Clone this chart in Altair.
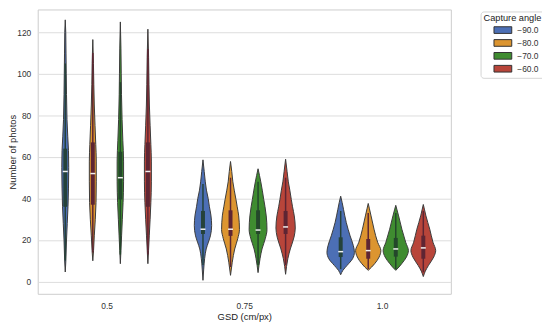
import altair as alt
import pandas as pd

# ---------------- data ----------------
gsd_labels = ["0.5", "0.75", "1.0"]
angle_labels = ["−90.0", "−80.0", "−70.0", "−60.0"]
fill_colors = ["#4c6fb5", "#dc9530", "#3f8c30", "#b8453a"]
box_colors = ["#25423a", "#5e2533", "#24472b", "#5e2533"]

# violin profiles: levels (Number of photos) and violin widths (density, px units)
# GSD 0.5
g050_a90_y = [4.6, 10, 20, 28, 36, 45, 55, 63, 70, 78, 90, 100, 110, 120, 126]
g050_a90_w = [0, 1.2, 2.5, 4, 5.5, 6.5, 7, 6.5, 5, 3.5, 2.5, 2, 1.5, 1, 0]
g050_a80_y = [10, 15, 22, 30, 38, 48, 58, 66, 75, 85, 95, 105, 116.5]
g050_a80_w = [0, 1.5, 3, 5, 6.5, 7, 7, 6, 4.5, 3, 2, 1.3, 0]
g050_a70_y = [8.6, 15, 22, 30, 38, 48, 58, 68, 78, 90, 100, 112, 125]
g050_a70_w = [0, 1.2, 2.5, 4, 5.5, 6.5, 6.5, 5, 3.5, 2.3, 1.8, 1.2, 0]
g050_a60_y = [8.6, 15, 22, 30, 38, 48, 58, 66, 75, 85, 95, 108, 121.5]
g050_a60_w = [0, 1.3, 2.8, 4.5, 6, 7, 7, 6, 4.5, 3, 2.2, 1.4, 0]
# GSD 0.75
g075_a90_y = [0.6, 6, 11, 15.7, 19, 22, 27, 32, 36, 40, 44, 48, 53, 58.6]
g075_a90_w = [0, 1.5, 3.3, 6.5, 11, 15, 17.5, 16, 13, 10.5, 7, 4.7, 2.5, 0]
g075_a80_y = [3, 9.3, 15.7, 20.6, 25, 31.6, 36, 39.5, 44, 48, 53, 57.8]
g075_a80_w = [0, 3.5, 8.5, 14.5, 18, 16.5, 13.5, 11, 7.5, 4.7, 2.5, 0]
g075_a70_y = [4.3, 11, 15.7, 20.6, 25, 31.6, 36, 39.5, 44, 48, 51, 54.3]
g075_a70_w = [0, 4, 8, 14.5, 18, 16.5, 14, 11.5, 8.5, 5.5, 3, 0]
g075_a60_y = [3.5, 11, 15.7, 21.4, 25.8, 31.6, 36, 39.5, 44, 48, 53, 58.9]
g075_a60_w = [0, 4.5, 9.5, 17, 19.5, 17.5, 14, 11.5, 8.5, 5.5, 3, 0]
# GSD 1.0
g100_a90_y = [3.3, 5.4, 7.8, 11, 14.1, 17.3, 22, 28.4, 34.8, 38, 41.1]
g100_a90_w = [0, 4.5, 13, 24, 27.7, 25.5, 19, 11.3, 5.7, 3, 0]
g100_a80_y = [5.4, 7, 8.6, 11.8, 14.9, 18.9, 25.2, 31.6, 35, 37.6]
g100_a80_w = [0, 7, 13, 22, 25.5, 19, 11.7, 5.7, 2.5, 0]
g100_a70_y = [5.4, 7, 8.6, 11.8, 14.9, 18.9, 25.2, 31.6, 34.5, 36.7]
g100_a70_w = [0, 6.5, 12, 21.5, 25.5, 20, 12.3, 5.7, 2.5, 0]
g100_a60_y = [2.4, 5, 7.8, 11.8, 14.9, 18.9, 25.2, 31.6, 34.5, 37.1]
g100_a60_w = [0, 4, 10.5, 21, 25, 19.5, 13, 5.3, 2.5, 0]

# inner box statistics per GSD group (one value per capture angle)
q1_vals = [[36, 37, 39.5, 36], [22.9, 22, 22.9, 22.9], [11.8, 11, 12, 11]]
median_vals = [[53, 52, 50, 53], [25.2, 25.2, 24.8, 26.3], [14.4, 14.9, 15.7, 16.2]]
q3_vals = [[64, 67, 62.5, 67], [34, 34.3, 34.3, 34], [21.3, 20.5, 21, 22.1]]
whisker_lo = [[10, 14, 13, 13], [8, 7, 8, 8], [6, 6, 6, 4.5]]
whisker_hi = [[105, 110, 96, 112], [47, 50, 48, 50], [34, 33, 33, 34]]

y_ticks = [0, 20, 40, 60, 80, 100, 120]

# ---------------- tables ----------------
profiles = [
    [(g050_a90_y, g050_a90_w), (g050_a80_y, g050_a80_w), (g050_a70_y, g050_a70_w), (g050_a60_y, g050_a60_w)],
    [(g075_a90_y, g075_a90_w), (g075_a80_y, g075_a80_w), (g075_a70_y, g075_a70_w), (g075_a60_y, g075_a60_w)],
    [(g100_a90_y, g100_a90_w), (g100_a80_y, g100_a80_w), (g100_a70_y, g100_a70_w), (g100_a60_y, g100_a60_w)],
]

rows = []
for gi, group in enumerate(profiles):
    for hi, (ys, ws) in enumerate(group):
        for y, w in zip(ys, ws):
            rows.append({"gi": gi, "hi": hi, "angle": angle_labels[hi], "v": y, "w": w,
                         "vid": f"{gi}-{hi}"})
violins = pd.DataFrame(rows)

srows = []
for gi in range(3):
    for hi in range(4):
        srows.append({"gi": gi, "hi": hi, "angle": angle_labels[hi],
                      "q1": q1_vals[gi][hi], "med": median_vals[gi][hi], "q3": q3_vals[gi][hi],
                      "lo": whisker_lo[gi][hi], "hiw": whisker_hi[gi][hi],
                      "boxcol": box_colors[hi]})
stats = pd.DataFrame(srows)

FONT = "Liberation Sans"
label_expr = "[" + ",".join(f"'{s}'" for s in gsd_labels) + "][datum.value]"

xscale = alt.Scale(domain=[-0.5, 2.5], nice=False, zero=False)
yscale = alt.Scale(domain=[-5.9, 131.0], nice=False, zero=False)

xaxis = alt.Axis(values=[0, 1, 2], labelExpr=label_expr, grid=False, ticks=False, domain=False,
                 title="GSD (cm/px)", labelPadding=8, titlePadding=1)
yaxis = alt.Axis(values=y_ticks, grid=True, ticks=False, domain=False,
                 title="Number of photos", labelPadding=7,
                 titleX=-20, titleY=143.5, titleAngle=270, titleBaseline="bottom",
                 titleAlign="center")

area = alt.Chart(violins).transform_calculate(
    xc="datum.gi + (datum.hi - 1.5) * 0.2"
).transform_calculate(
    xl="datum.xc - datum.w * 0.0036",
    xr="datum.xc + datum.w * 0.0036",
).mark_area(orient="horizontal", interpolate="monotone", stroke="#3b3b3b",
            strokeWidth=1, opacity=1).encode(
    x=alt.X("xl:Q", scale=xscale, axis=xaxis, stack=None),
    x2="xr:Q",
    y=alt.Y("v:Q", scale=yscale, axis=yaxis),
    fill=alt.Fill("angle:N", scale=alt.Scale(domain=angle_labels, range=fill_colors),
                  sort=angle_labels, legend=alt.Legend(title="Capture angle")),
    detail="vid:N",
)

sbase = alt.Chart(stats).transform_calculate(
    xc="datum.gi + (datum.hi - 1.5) * 0.2"
)

whisk = sbase.mark_rule(strokeWidth=1.5).encode(
    x=alt.X("xc:Q", scale=xscale),
    y=alt.Y("lo:Q", scale=yscale),
    y2="hiw:Q",
    stroke=alt.Stroke("boxcol:N", scale=None, legend=None),
)

box = sbase.mark_rule(strokeWidth=4).encode(
    x=alt.X("xc:Q", scale=xscale),
    y=alt.Y("q1:Q", scale=yscale),
    y2="q3:Q",
    stroke=alt.Stroke("boxcol:N", scale=None, legend=None),
)

med = sbase.mark_tick(orient="horizontal", size=5, thickness=1.5, color="#f2f2f2", opacity=1).encode(
    x=alt.X("xc:Q", scale=xscale),
    y=alt.Y("med:Q", scale=yscale),
)

chart = alt.layer(area, whisk, box, med).properties(
    width=417, height=287,
    autosize=alt.AutoSizeParams(type="none"),
    padding={"left": 30, "top": 0, "right": 92, "bottom": 30},
).configure_view(
    stroke="#cccccc", strokeWidth=1
).configure_axis(
    labelFont=FONT, titleFont=FONT, labelFontSize=8.5, titleFontSize=9.5,
    labelColor="#333333", titleColor="#222222", titleFontWeight="normal",
    gridColor="#dddddd", gridWidth=1,
).configure_legend(
    orient="none", legendX=447, legendY=2,
    padding=3, strokeColor="#d5d5d5", fillColor="white", cornerRadius=3,
    titleFont=FONT, labelFont=FONT, titleFontSize=9.3, titleFontWeight="normal",
    titleColor="#222222", labelColor="#333333", labelFontSize=8.5,
    symbolType="M-2.4,-0.9H2.4V0.9H-2.4Z", symbolSize=56,
    symbolStrokeColor="#333333", symbolStrokeWidth=1, symbolOpacity=1,
    symbolOffset=15, labelOffset=10, rowPadding=2, titlePadding=2,
)

chart.save("out.html", embed_options={"renderer": "svg", "actions": False})
